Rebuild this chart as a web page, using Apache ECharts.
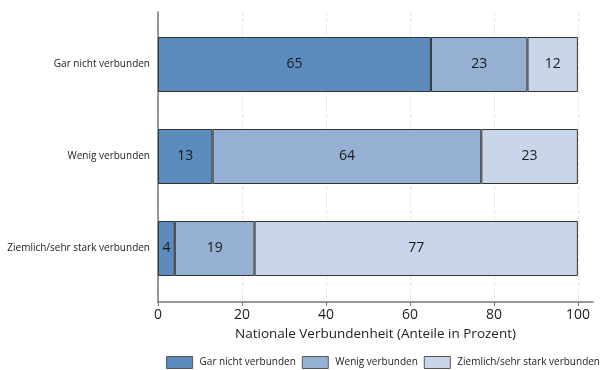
<!DOCTYPE html>
<html>
<head>
<meta charset="utf-8">
<script src="https://cdn.jsdelivr.net/npm/echarts@6/dist/echarts.min.js"></script>
<style>
  html, body { margin: 0; padding: 0; background: #fff; }
  #main { width: 603px; height: 370px; }
</style>
</head>
<body>
<div id="main"></div>
<script>
// Kategorien (von oben nach unten)
const categories = ['Gar nicht verbunden', 'Wenig verbunden', 'Ziemlich/sehr stark verbunden'];
// Anteile je Antwort
const garNicht = [65, 13, 4];
const wenig = [23, 64, 19];
const ziemlich = [12, 23, 77];
const seriesNames = ['Gar nicht verbunden', 'Wenig verbunden', 'Ziemlich/sehr stark verbunden'];
const colors = ['#5b8cbd', '#95b0d3', '#c9d5e8'];
const tickValues = [0, 20, 40, 60, 80, 100];

const font = '"Open Sans", sans-serif';
const xMax = 103.6;

const chart = echarts.init(document.getElementById('main'));

function barSeries(name, data, i) {
  return {
    name: name,
    type: 'bar',
    stack: 'total',
    xAxisIndex: 0,
    yAxisIndex: 0,
    barWidth: 55,
    data: data,
    itemStyle: { color: colors[i], borderColor: '#333', borderWidth: 1 },
    label: {
      show: true,
      position: 'inside',
      color: '#1a1a1a',
      fontSize: 14,
      fontFamily: font
    },
    emphasis: { disabled: true }
  };
}

chart.setOption({
  animation: false,
  textStyle: { fontFamily: font },
  legend: {
    bottom: 1,
    right: 3,
    padding: 0,
    itemWidth: 26,
    itemHeight: 12,
    itemGap: 6,
    icon: 'rect',
    itemStyle: { borderColor: '#555', borderWidth: 1 },
    textStyle: { fontSize: 10, color: '#222', fontFamily: font, padding: [0, 0, 0, 2] },
    data: seriesNames
  },
  grid: [
    // Balkenbereich
    { left: 158, right: 10, top: 18.5, bottom: 75.5, outerBoundsMode: 'none' },
    // Achsenrahmen
    { left: 158, right: 10, top: 12, bottom: 68, outerBoundsMode: 'none' }
  ],
  xAxis: [
    {
      gridIndex: 0, type: 'value', min: 0, max: xMax, show: false
    },
    {
      gridIndex: 1, type: 'value', min: 0, max: xMax,
      axisLine: { show: true, lineStyle: { color: '#777', width: 1.5 } },
      axisTick: { show: true, length: 4, customValues: tickValues, lineStyle: { color: '#777' } },
      axisLabel: { customValues: tickValues, fontSize: 14, color: '#222', margin: 6 },
      splitLine: { show: true, lineStyle: { color: '#e6e6e6', type: 'dashed' } },
      name: 'Nationale Verbundenheit (Anteile in Prozent)',
      nameLocation: 'middle',
      nameGap: 24,
      nameTextStyle: { fontSize: 13.5, color: '#222' }
    }
  ],
  yAxis: [
    {
      gridIndex: 0, type: 'category', inverse: true, data: categories,
      axisLine: { show: false },
      axisTick: { show: false },
      axisLabel: { fontSize: 10, color: '#222', margin: 8 }
    },
    {
      gridIndex: 1, type: 'value', min: 0, max: 1,
      axisLine: { show: true, lineStyle: { color: '#777', width: 1.5 } },
      axisTick: { show: false },
      axisLabel: { show: false },
      splitLine: { show: false }
    }
  ],
  series: [
    barSeries(seriesNames[0], garNicht, 0),
    barSeries(seriesNames[1], wenig, 1),
    barSeries(seriesNames[2], ziemlich, 2)
  ]
});
</script>
</body>
</html>
